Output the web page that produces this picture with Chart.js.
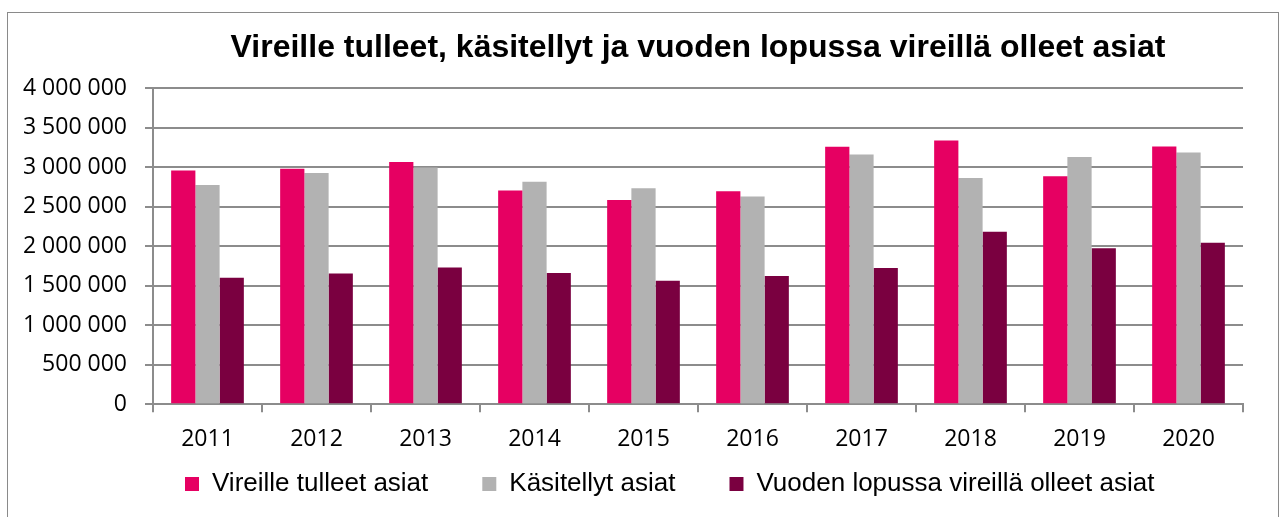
<!DOCTYPE html>
<html>
<head>
<meta charset="utf-8">
<script src="https://cdn.jsdelivr.net/npm/chart.js@4.4.0/dist/chart.umd.min.js"></script>
<style>
  html, body { margin: 0; padding: 0; background: #fff; }
  #wrap { position: relative; width: 1282px; height: 517px; overflow: hidden; }
  #frame { position: absolute; left: 7px; top: 12px; width: 1272px; height: 520px; border: 1.5px solid #8a8a8a; box-sizing: border-box; }
  canvas { position: absolute; left: 0; top: 0; }
</style>
</head>
<body>
<div id="wrap">
  <div id="frame"></div>
  <canvas id="chart" width="1282" height="517"></canvas>
</div>
<script>
// data
const years = ['2011', '2012', '2013', '2014', '2015', '2016', '2017', '2018', '2019', '2020'];
const vireilleTulleet = [2962000, 2983000, 3067000, 2706000, 2588000, 2697000, 3261000, 3340000, 2887000, 3265000];
const kasitellyt = [2777000, 2929000, 3000000, 2819000, 2735000, 2630000, 3164000, 2866000, 3130000, 3189000];
const vireillaLopussa = [1601000, 1655000, 1731000, 1664000, 1563000, 1626000, 1727000, 2185000, 1975000, 2046000];
const seriesNames = ['Vireille tulleet asiat', 'Käsitellyt asiat', 'Vuoden lopussa vireillä olleet asiat'];
const titleText = 'Vireille tulleet, käsitellyt ja vuoden lopussa vireillä olleet asiat';
const Y_MAX = 4000000;
const Y_STEP = 500000;

const GRID = '#8c8c8c';

function fmt(v) {
    return String(v).replace(/\B(?=(\d{3})+(?!\d))/g, ' ');
}

// the axes are squeezed so the legend can sit where it does in the original,
// so widen their label clip boxes again once the layout is done
const openLabelClip = {
    id: 'openLabelClip',
    afterLayout(chart) {
        chart.scales.y.left = 0;
        chart.scales.x.bottom = chart.height;
    }
};

const ctx = document.getElementById('chart');

new Chart(ctx, {
    type: 'bar',
    data: {
        labels: years,
        datasets: [
            { label: seriesNames[0], data: vireilleTulleet, backgroundColor: 'rgb(230, 0, 98)' },
            { label: seriesNames[1], data: kasitellyt, backgroundColor: 'rgb(178, 178, 178)' },
            { label: seriesNames[2], data: vireillaLopussa, backgroundColor: 'rgb(122, 0, 64)' }
        ]
    },
    plugins: [openLabelClip],
    options: {
        responsive: false,
        animation: false,
        layout: { padding: { left: 131, right: 39, top: 0, bottom: 10 } },
        datasets: {
            bar: { categoryPercentage: 0.667, barPercentage: 1.0 }
        },
        plugins: {
            title: {
                display: true,
                text: titleText,
                fullSize: false,
                color: '#000',
                font: { family: 'Liberation Sans', size: 32, weight: 'bold' },
                padding: { top: 29, bottom: 21 }
            },
            legend: {
                position: 'bottom',
                align: 'start',
                labels: {
                    boxWidth: 14,
                    boxHeight: 14,
                    padding: 54,
                    color: '#000',
                    font: { family: 'Liberation Sans', size: 26 }
                }
            },
            tooltip: { enabled: false }
        },
        scales: {
            x: {
                afterFit: (scale) => { scale.height = 12.7; },
                grid: {
                    offset: true,
                    drawOnChartArea: false,
                    tickLength: 8,
                    color: GRID,
                    lineWidth: 2
                },
                border: { color: GRID, width: 2 },
                ticks: {
                    padding: 13,
                    color: '#000',
                    font: { family: 'Open Sans', size: 23 }
                }
            },
            y: {
                min: 0,
                max: Y_MAX,
                afterFit: (scale) => { scale.width = 22; },
                grid: { color: GRID, lineWidth: 2, tickLength: 8 },
                border: { color: GRID, width: 2 },
                ticks: {
                    stepSize: Y_STEP,
                    padding: 18,
                    color: '#000',
                    font: { family: 'Open Sans', size: 23 },
                    callback: (v) => fmt(v)
                }
            }
        }
    }
});
</script>
</body>
</html>
